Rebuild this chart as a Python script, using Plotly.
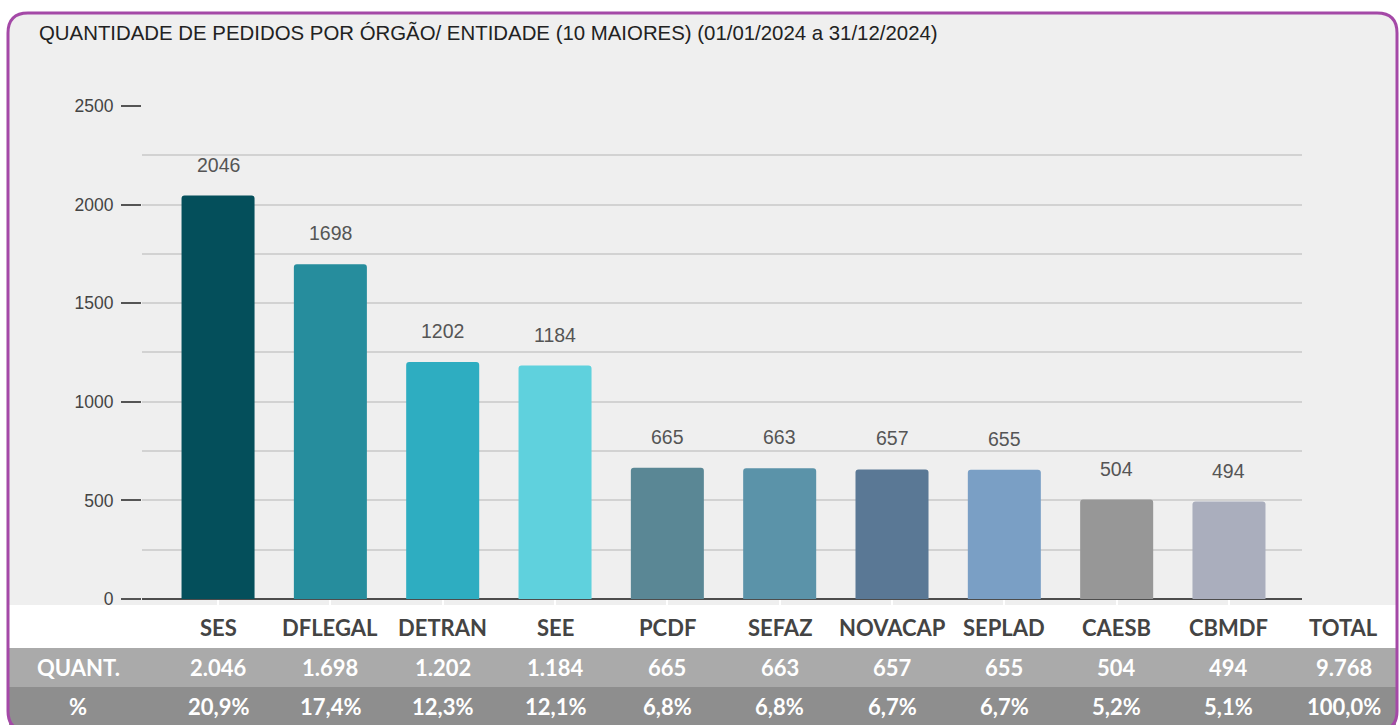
import plotly.graph_objects as go

# ---------------- data ----------------
categories = ["SES", "DFLEGAL", "DETRAN", "SEE", "PCDF", "SEFAZ", "NOVACAP", "SEPLAD", "CAESB", "CBMDF"]
values = [2046, 1698, 1202, 1184, 665, 663, 657, 655, 504, 494]
pct_labels = ["20,9%", "17,4%", "12,3%", "12,1%", "6,8%", "6,8%", "6,7%", "6,7%", "5,2%", "5,1%"]
total_label = "9.768"
total_pct = "100,0%"
bar_colors = ["#044f5b", "#268d9d", "#2eadc1", "#5fd1dd", "#5a8795", "#5b93a9",
              "#5a7895", "#7a9fc5", "#979797", "#aaaebd"]
y_ticks = [0, 500, 1000, 1500, 2000, 2500]
minor_ticks = [250, 750, 1250, 1750, 2250]
title = "QUANTIDADE DE PEDIDOS POR ÓRGÃO/ ENTIDADE (10 MAIORES) (01/01/2024 a 31/12/2024)"

# ---------------- geometry ----------------
W, H = 1399, 725
L, R, T, B = 142, 97, 105, 126
X_RANGE = [-0.677, 9.65]
Y_RANGE = [0, 2505]


def px_x(p):
    return (p - L) / (W - L - R)


def px_y(p):
    return (H - B - p) / (H - T - B)


def cat_to_paper(i):
    return (i - X_RANGE[0]) / (X_RANGE[1] - X_RANGE[0])


def fmt_thousands(v):
    return f"{v:,}".replace(",", ".")


TABLE_FONT = "Lato, Liberation Sans, sans-serif"
TSIZE = 22

fig = go.Figure()
fig.add_trace(go.Bar(
    x=categories,
    y=values,
    marker=dict(color=bar_colors, line=dict(width=0), cornerradius=3),
    width=0.65,
    hoverinfo="x+y",
))

shapes = []
# panel with rounded corners
x0, x1, y0, y1, r = 8, 1397, 13, 731, 20
pts = [
    ("M", [(x0 + r, y0)]),
    ("L", [(x1 - r, y0)]),
    ("Q", [(x1, y0), (x1, y0 + r)]),
    ("L", [(x1, y1 - r)]),
    ("Q", [(x1, y1), (x1 - r, y1)]),
    ("L", [(x0 + r, y1)]),
    ("Q", [(x0, y1), (x0, y1 - r)]),
    ("L", [(x0, y0 + r)]),
    ("Q", [(x0, y0), (x0 + r, y0)]),
]
path = ""
for cmd, cs in pts:
    path += cmd + " " + " ".join(f"{px_x(a):.5f},{px_y(b):.5f}" for a, b in cs) + " "
path += "Z"
shapes.append(dict(type="path", path=path, xref="paper", yref="paper",
                   fillcolor="#efefef", line=dict(width=0), layer="below"))
# table rows
rows = [(605, 648, "#ffffff"), (648, 687, "#aaaaaa"), (687, 740, "#8e8e8e")]
for ya, yb, col in rows:
    shapes.append(dict(type="rect", xref="paper", yref="paper",
                       x0=px_x(x0 + 1), x1=px_x(x1 - 1), y0=px_y(yb), y1=px_y(ya),
                       fillcolor=col, line=dict(width=0), layer="below"))
# border outline
shapes.append(dict(type="path", path=path, xref="paper", yref="paper",
                   fillcolor="rgba(0,0,0,0)", line=dict(width=3, color="#a449a7"), layer="below"))

annotations = []
# title
annotations.append(dict(text=title, xref="paper", yref="paper", x=px_x(37), y=px_y(33),
                        xanchor="left", yanchor="middle", showarrow=False,
                        font=dict(family="Liberation Sans, Arial, sans-serif", size=20.4, color="#222222")))
# value labels
for c, v in zip(categories, values):
    annotations.append(dict(text=str(v), x=c, y=v, xref="x", yref="y", yshift=31,
                            showarrow=False, xanchor="center", yanchor="middle",
                            font=dict(family="Liberation Sans, Arial, sans-serif", size=19.5, color="#555555")))


def table_cell(text, xp, yp, color):
    annotations.append(dict(text=f"<b>{text}</b>", x=xp, y=yp, xref="paper", yref="paper",
                            showarrow=False, xanchor="center", yanchor="middle",
                            font=dict(family=TABLE_FONT, size=TSIZE, color=color)))


row_y = {"head": px_y(627), "quant": px_y(667), "pct": px_y(706)}
for i, (c, v, p) in enumerate(zip(categories, values, pct_labels)):
    xp = cat_to_paper(i)
    table_cell(c, xp, row_y["head"], "#444444")
    table_cell(fmt_thousands(v), xp, row_y["quant"], "#ffffff")
    table_cell(p, xp, row_y["pct"], "#ffffff")
xt = cat_to_paper(len(categories) + 0.02)
table_cell("TOTAL", xt, row_y["head"], "#444444")
table_cell(total_label, xt, row_y["quant"], "#ffffff")
table_cell(total_pct, xt, row_y["pct"], "#ffffff")
table_cell("QUANT.", px_x(78), row_y["quant"], "#ffffff")
table_cell("%", px_x(78), row_y["pct"], "#ffffff")

fig.update_layout(
    width=W, height=H,
    margin=dict(l=L, r=R, t=T, b=B, pad=0),
    paper_bgcolor="#ffffff",
    plot_bgcolor="rgba(0,0,0,0)",
    showlegend=False,
    shapes=shapes,
    annotations=annotations,
    xaxis=dict(
        type="category",
        range=X_RANGE,
        showticklabels=False,
        ticks="outside", ticklen=9, tickwidth=2, tickcolor="#ffffff",
        showgrid=False, zeroline=False, showline=False,
    ),
    yaxis=dict(
        range=Y_RANGE,
        tickvals=y_ticks,
        ticks="outside", ticklen=20, tickwidth=2, tickcolor="#555555",
        ticklabelstandoff=4,
        tickfont=dict(family="Liberation Sans, Arial, sans-serif", size=17.5, color="#444444"),
        showgrid=True, gridcolor="#d2d2d2", gridwidth=2,
        minor=dict(tickvals=minor_ticks, showgrid=True, gridcolor="#d2d2d2", gridwidth=2, ticks=""),
        zeroline=True, zerolinecolor="#4d4d4d", zerolinewidth=2,
        showline=False,
    ),
)

fig.write_html("out.html", config={"displayModeBar": False},
               post_script="document.body.style.margin='0';document.body.style.overflow='hidden';")
